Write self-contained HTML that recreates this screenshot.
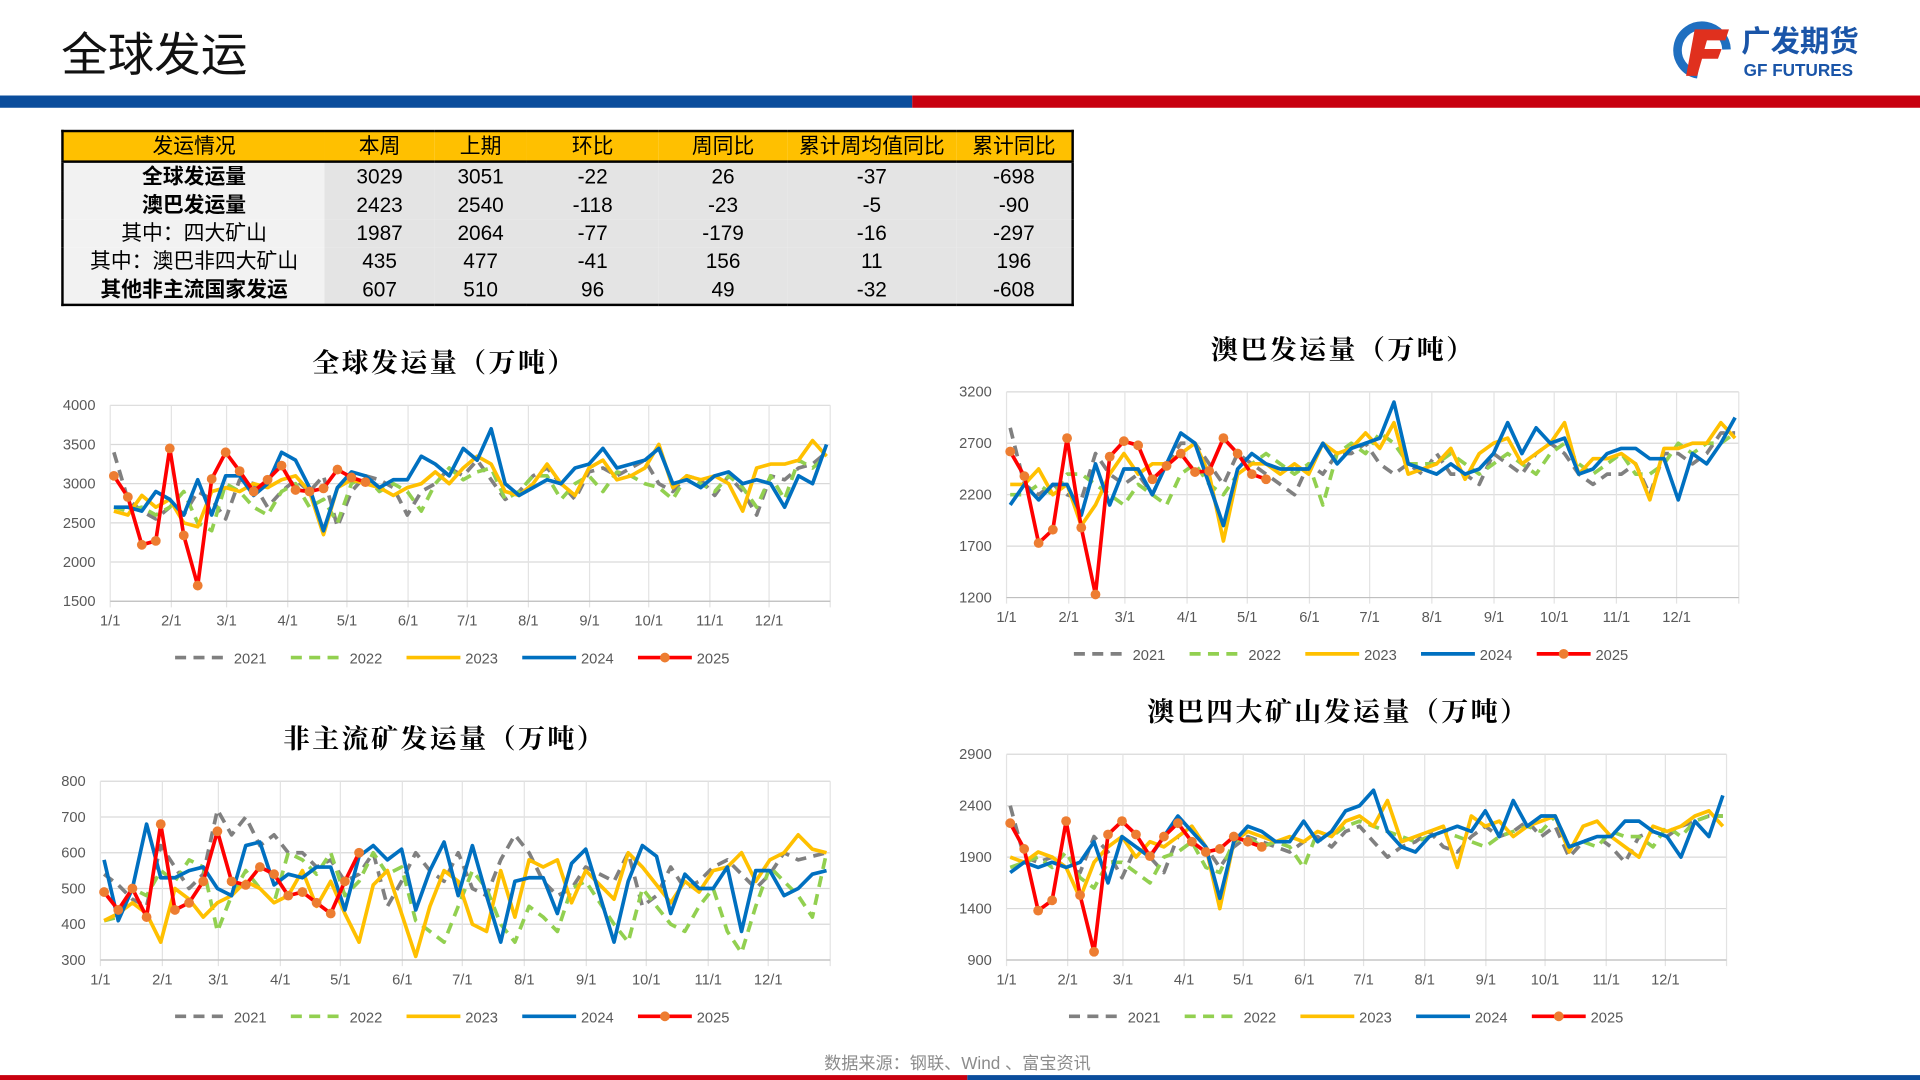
<!DOCTYPE html>
<html><head><meta charset="utf-8">
<style>
html,body{margin:0;padding:0;background:#fff;overflow:hidden;width:1920px;height:1080px}
#page{position:absolute;left:0;top:0;width:1568px;height:882px;transform-origin:0 0;transform:scale(1.2245);font-family:"Liberation Sans","Noto Sans CJK SC",sans-serif}
.abs{position:absolute}
table{border-collapse:collapse}
#tbl{position:absolute;left:50px;top:106px;width:827px;border:2px solid #000;font-size:17px}
#tbl td{height:23px;padding:0;text-align:center;line-height:22px;background:#e4e4e4}
#tbl tr.h td{background:#ffc000;border-bottom:2px solid #000}
#tbl td.c1{background:#f2f2f2}
.ttl{position:absolute;font-family:"Noto Serif CJK SC","Liberation Serif",serif;font-weight:bold;font-size:22px;letter-spacing:2px;transform:translateX(-50%);white-space:nowrap}
</style></head><body>
<div id="page">
<div class="abs" style="left:50px;top:14px;font-size:38px;color:#111">全球发运</div>
<div class="abs" style="left:1366px;top:14px;width:165px;height:54px">
<svg width="165" height="54"><circle cx="24" cy="27" r="20" fill="none" stroke="#1f6fc0" stroke-width="7" stroke-dasharray="90 40" transform="rotate(100 24 27)"/><path d="M18 10 H46 L43 19 H28 L26 26 H40 L37 34 H24 L20 48 H11 Z" fill="#e0301e"/>
<text x="56" y="28" font-size="24" font-weight="bold" fill="#1a55a8" font-family="Noto Sans CJK SC,sans-serif">广发期货</text>
<text x="58" y="48" font-size="14" font-weight="bold" fill="#1a55a8" font-family="Liberation Sans,sans-serif">GF FUTURES</text></svg></div>
<div class="abs" style="left:0;top:78px;width:745px;height:10px;background:#0b4d9c"></div>
<div class="abs" style="left:745px;top:78px;width:823px;height:10px;background:#c8000f"></div>
<table id="tbl">
<tr class="h"><td style="width:213px">发运情况</td><td style="width:90px">本周</td><td style="width:75px">上期</td><td style="width:108px">环比</td><td style="width:105px">周同比</td><td style="width:138px">累计周均值同比</td><td>累计同比</td></tr>
<tr><td class="c1"><b>全球发运量</b></td><td>3029</td><td>3051</td><td>-22</td><td>26</td><td>-37</td><td>-698</td></tr>
<tr><td class="c1"><b>澳巴发运量</b></td><td>2423</td><td>2540</td><td>-118</td><td>-23</td><td>-5</td><td>-90</td></tr>
<tr><td class="c1">其中：四大矿山</td><td>1987</td><td>2064</td><td>-77</td><td>-179</td><td>-16</td><td>-297</td></tr>
<tr><td class="c1">其中：澳巴非四大矿山</td><td>435</td><td>477</td><td>-41</td><td>156</td><td>11</td><td>196</td></tr>
<tr><td class="c1"><b>其他非主流国家发运</b></td><td>607</td><td>510</td><td>96</td><td>49</td><td>-32</td><td>-608</td></tr>
</table>
<div class="ttl" style="left:363px;top:280px">全球发运量（万吨）</div>
<div class="ttl" style="left:1097px;top:269px">澳巴发运量（万吨）</div>
<div class="ttl" style="left:363px;top:587px">非主流矿发运量（万吨）</div>
<div class="ttl" style="left:1093px;top:565px">澳巴四大矿山发运量（万吨）</div>
<svg id="charts" class="abs" style="left:0;top:0" width="1568" height="882"></svg>
<div class="abs" style="left:673px;top:858px;font-size:14px;color:#8c8c8c">数据来源：钢联、Wind 、富宝资讯</div>
<div class="abs" style="left:0;top:878px;width:790px;height:4px;background:#c8000f"></div>
<div class="abs" style="left:790px;top:878px;width:778px;height:4px;background:#0b4d9c"></div>
</div>
<script>
const months=["1/1","2/1","3/1","4/1","5/1","6/1","7/1","8/1","9/1","10/1","11/1","12/1"];
const years=["2021","2022","2023","2024","2025"];
const g21=[3400,2800,2650,2550,2700,2600,2900,2800,2550,3050,3000,2700,2900,3050,2900,3100,2450,2900,3100,3050,2950,2600,2900,3000,3200,3100,3300,3050,2800,2900,3100,3200,3000,2800,3150,3200,3100,3200,3300,3000,2900,3100,3050,2850,3100,2900,2600,3100,3050,3200,3250,3400];
const g22=[2700,2650,2700,2600,2700,2900,2500,2400,3000,2900,2700,2600,2900,3000,2700,2800,2500,3000,3100,2900,3000,2900,2650,3000,3200,3050,3150,3200,2800,2900,3100,3100,2800,3000,3100,2900,3150,3100,3000,2950,2800,3100,3000,2900,3100,2950,2700,3100,2800,3300,3200,3350];
const g23=[2650,2600,2850,2700,2800,2500,2450,2900,2950,2900,3000,2950,3050,3100,2900,2350,2950,3050,3000,2950,2850,2950,3000,3150,3000,3200,3350,3250,2900,2850,3000,3250,3000,2850,3200,3300,3050,3100,3200,3500,2950,3100,3050,3100,3000,2650,3200,3250,3250,3300,3550,3350];
const g24=[2700,2700,2650,2900,2800,2600,3050,2600,3100,3100,2850,3000,3400,3300,2950,2400,2950,3150,3100,2950,3050,3050,3350,3250,3100,3450,3300,3700,3000,2850,2950,3050,3000,3200,3250,3450,3200,3250,3300,3450,3000,3050,2950,3100,3150,3000,3050,3000,2700,3100,3000,3500];
const g25=[3100,2830,2220,2270,3450,2340,1700,3060,3400,3160,2900,3050,3230,2920,2900,2940,3180,3080,3020];
const a21=[2850,2300,2200,2300,2200,2150,2600,2400,2300,2400,2200,2500,2700,2700,2500,2300,2600,2500,2400,2300,2200,2500,2400,2600,2600,2700,2500,2400,2500,2400,2600,2400,2400,2300,2600,2500,2400,2600,2700,2600,2400,2300,2400,2400,2500,2200,2600,2600,2500,2600,2800,2800];
const a22=[2200,2200,2300,2200,2400,2400,2300,2200,2100,2300,2200,2100,2400,2500,2300,2200,2400,2500,2600,2500,2400,2500,2100,2600,2700,2600,2800,2700,2500,2500,2500,2600,2500,2400,2500,2600,2500,2400,2600,2700,2500,2400,2500,2600,2400,2400,2500,2700,2600,2700,2700,2800];
const a23=[2300,2300,2450,2200,2300,1900,2100,2400,2600,2400,2500,2500,2600,2700,2400,1750,2400,2500,2500,2400,2500,2400,2700,2600,2650,2800,2650,2900,2400,2450,2500,2650,2350,2600,2700,2750,2500,2600,2700,2900,2400,2550,2550,2600,2500,2150,2650,2650,2700,2700,2900,2750];
const a24=[2100,2300,2150,2300,2300,2000,2500,2100,2450,2450,2200,2500,2800,2700,2300,1900,2450,2600,2500,2450,2450,2450,2700,2500,2650,2700,2750,3100,2500,2450,2400,2500,2400,2450,2600,2900,2600,2850,2700,2750,2400,2450,2600,2650,2650,2550,2550,2150,2600,2500,2700,2950];
const a25=[2620,2380,1730,1860,2750,1880,1230,2570,2720,2680,2350,2480,2600,2420,2430,2750,2600,2400,2350];
const n21=[540,510,470,450,620,560,500,540,720,650,700,620,650,600,600,560,580,520,540,600,450,520,600,550,520,600,500,480,580,650,600,520,480,500,560,540,520,600,450,480,560,500,520,560,580,540,500,540,600,580,590,600];
const n22=[410,420,500,480,550,520,580,560,380,480,550,500,460,600,580,540,600,480,520,600,540,560,410,380,350,450,550,500,400,350,450,420,380,500,520,460,400,350,500,450,400,380,450,500,380,320,450,560,520,480,420,600];
const n23=[410,430,460,430,350,500,470,420,460,480,520,500,460,480,550,450,520,430,350,510,550,430,310,450,550,520,400,380,550,420,580,560,580,460,550,510,470,600,560,510,460,520,490,550,560,600,520,580,600,650,610,600];
const n24=[580,410,500,680,530,530,550,560,500,480,620,630,510,540,530,560,560,440,590,620,580,610,440,550,630,480,620,480,350,520,530,530,430,570,610,480,350,520,620,590,430,540,500,500,560,380,550,550,480,500,540,550];
const n25=[490,440,500,420,680,440,460,520,660,520,510,560,540,480,490,460,430,520,600];
const b21=[2400,1900,1850,1900,1800,1750,2100,1950,1700,2000,1900,1750,2100,2200,2000,1800,2000,2100,2050,2000,1950,2050,2100,2000,2150,2200,2050,1900,2000,2050,2150,2000,1950,2100,2200,2100,2150,2250,2100,2200,1900,2050,2100,2000,1850,2100,2150,2100,2200,2250,2300,2300];
const b22=[1800,1850,1900,1800,1950,1700,1600,1850,1850,1750,1650,1900,1950,2050,1800,1750,2050,2100,2000,2050,2000,1800,2150,2100,2200,2250,2200,2150,2100,2050,2100,2150,2100,2050,2000,2100,2150,2200,2150,2300,2000,2050,2000,2150,2100,2100,2000,2200,2100,2250,2300,2300];
const b23=[1900,1850,1950,1900,1800,1500,1850,2000,2100,1900,2050,2000,2100,2200,2000,1400,2050,2150,2100,2050,2100,2050,2150,2100,2250,2300,2200,2450,2050,2100,2150,2200,1800,2300,2200,2250,2100,2200,2250,2300,1950,2200,2250,2100,2000,1900,2200,2150,2200,2300,2350,2200];
const b24=[1750,1850,1800,1850,1800,1850,2050,1650,2100,2000,1900,2100,2300,2150,2000,1500,2050,2200,2150,2050,2050,2250,2050,2150,2350,2400,2550,2150,2000,1950,2100,2150,2200,2150,2350,2100,2450,2200,2300,2300,2000,2050,2100,2100,2250,2250,2150,2100,1900,2250,2100,2500];
const b25=[2230,1980,1380,1480,2250,1530,980,2120,2250,2120,1910,2100,2230,2050,1950,1980,2100,2050,2000];
const ticks1=[1500,2000,2500,3000,3500,4000];
const ticks2=[1200,1700,2200,2700,3200];
const ticks3=[300,400,500,600,700,800];
const ticks4=[900,1400,1900,2400,2900];

const NS="http://www.w3.org/2000/svg";
const svg=document.getElementById('charts');
const styles=[{c:"#808080",d:"9 6"},{c:"#92d050",d:"9 6"},{c:"#ffc000",d:""},{c:"#0070c0",d:""},{c:"#ff0000",d:"",m:true}];
function mk(tag,attrs,parent){const e=document.createElementNS(NS,tag);for(const k in attrs)e.setAttribute(k,attrs[k]);(parent||svg).appendChild(e);return e;}
function chart(id,x0,x1,y0,y1,ticks,series,legX,legY){
  const g=mk('g',{});
  
  
  const lo=ticks[0],hi=ticks[ticks.length-1];
  const sx=d=>x0+(d/365)*(x1-x0);
  const wx=i=>x0+3+i*(x1-x0-6)/51;
  const sy=v=>y1-(v-lo)/(hi-lo)*(y1-y0);
  ticks.forEach(t=>{
    const l=mk('line',{x1:x0,x2:x1,y1:sy(t),y2:sy(t),stroke:'#d9d9d9','stroke-width':1},g);
    
    
    const tx=mk('text',{x:x0-12,y:sy(t)+4,'text-anchor':'end','font-size':12,fill:'#595959'},g);
    tx.textContent=t;
    
    
  });
  const mdays=[0,31,59,90,120,151,181,212,243,273,304,334,365];
  mdays.forEach((d,i)=>{
    const vl=mk('line',{x1:sx(d),x2:sx(d),y1:y0,y2:y1+5,stroke:'#e3e3e3','stroke-width':1},g);
    
    
    if(i<12){const tx=mk('text',{x:sx(d),y:y1+20,'text-anchor':'middle','font-size':12,fill:'#595959'},g);
    tx.textContent=months[i];
    
    }
  });
  mk('line',{x1:x0,x2:x1,y1:y1,y2:y1,stroke:'#bfbfbf','stroke-width':1},g);
  series.forEach((s,k)=>{
    const st=styles[k];
    const pts=s.map((v,i)=>wx(i)+','+sy(v)).join(' ');
    const pl=mk('polyline',{points:pts,fill:'none',stroke:st.c,'stroke-width':3,'stroke-dasharray':st.d,'stroke-linejoin':'round'},g);
    
    
    if(st.m) s.forEach((v,i)=>{
      const c=mk('circle',{cx:wx(i),cy:sy(v),r:4,fill:'#ed7d31'},g);
      
      
    });
  });
  years.forEach((y,k)=>{
    const st=styles[k];const lx=legX+k*94.5;
    const ll=mk('line',{x1:lx,x2:lx+44,y1:legY,y2:legY,stroke:st.c,'stroke-width':3,'stroke-dasharray':st.d?'9 6':''},g);
    
    
    if(st.m){mk('circle',{cx:lx+22,cy:legY,r:4,fill:'#ed7d31'},g);}
    const tx=mk('text',{x:lx+48,y:legY+5,'font-size':12,fill:'#595959'},g);
    tx.textContent=y;
    
    
  });
}
chart('chart-global',90,678,331,491,ticks1,[g21,g22,g23,g24,g25],143,537);
chart('chart-aubr',822,1420,320,488,ticks2,[a21,a22,a23,a24,a25],877,534);
chart('chart-nonmain',82,678,638,784,ticks3,[n21,n22,n23,n24,n25],143,830);
chart('chart-big4',822,1410,616,784,ticks4,[b21,b22,b23,b24,b25],873,830);
function fit(){const s=(window.innerWidth||1920)/1568;document.getElementById('page').style.transform='scale('+s+')';}
fit();window.addEventListener('resize',fit);
</script>
</body></html>
